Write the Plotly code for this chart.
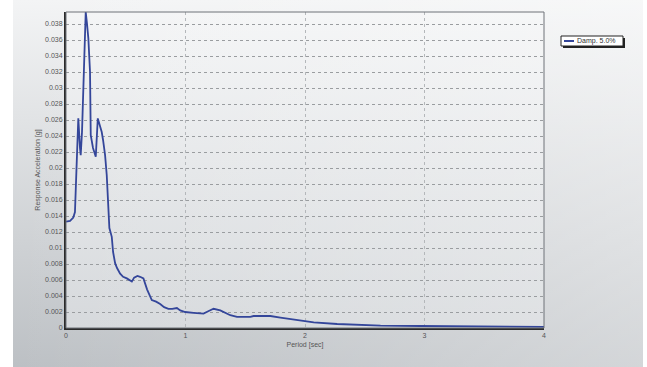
import base64
import plotly.graph_objects as go

# ---- data ----
period = [0.0, 0.034, 0.061, 0.075, 0.088, 0.103, 0.117, 0.123, 0.134, 0.151,
          0.165, 0.176, 0.187, 0.201, 0.207, 0.226, 0.249, 0.266, 0.285, 0.299,
          0.310, 0.327, 0.341, 0.352, 0.363, 0.383, 0.394, 0.411, 0.427, 0.453,
          0.478, 0.509, 0.528, 0.551, 0.570, 0.598, 0.620, 0.648, 0.679, 0.718,
          0.754, 0.788, 0.821, 0.857, 0.889, 0.928, 0.956, 0.997, 1.067, 1.151,
          1.19, 1.235, 1.291, 1.375, 1.431, 1.542, 1.570, 1.710, 1.794, 1.934,
          2.073, 2.269, 2.490, 2.632, 2.967, 3.30, 4.0]
accel = [0.0133, 0.0134, 0.0138, 0.0145, 0.0200, 0.0262, 0.0225, 0.0216, 0.0245, 0.0330,
         0.0395, 0.0380, 0.0362, 0.0320, 0.0241, 0.0225, 0.0214, 0.0262, 0.0253, 0.0245,
         0.0235, 0.0216, 0.0191, 0.0150, 0.0125, 0.0114, 0.0095, 0.0081, 0.0075, 0.0068,
         0.0064, 0.0062, 0.0060, 0.0058, 0.0063, 0.0065, 0.0064, 0.0062, 0.0048, 0.0035,
         0.0033, 0.0030, 0.0026, 0.0024, 0.0024, 0.0025, 0.0022, 0.0020, 0.0019, 0.0018,
         0.0021, 0.0024, 0.0022, 0.0016, 0.0014, 0.0014, 0.0015, 0.0015, 0.0013, 0.0010,
         0.0007, 0.0005, 0.0004, 0.0003, 0.00025, 0.0002, 0.00015]

series_name = "Damp. 5.0%"
x_ticks = [0, 1, 2, 3, 4]
y_ticks = [i * 0.002 for i in range(20)]
y_tick_labels = ["0", "0.002", "0.004", "0.006", "0.008", "0.01", "0.012", "0.014",
                 "0.016", "0.018", "0.02", "0.022", "0.024", "0.026", "0.028", "0.03",
                 "0.032", "0.034", "0.036", "0.038"]

# ---- figure geometry ----
W, H = 647, 367
ML, MR, MT, MB = 66, 103, 12, 39
PW, PH = W - ML - MR, H - MT - MB


def px_to_paper_x(px):
    return (px - ML) / PW


def px_to_paper_y(py):
    return (H - MB - py) / PH


def grad_svg(top, bottom, top_right=None):
    svg = (
        '<svg xmlns="http://www.w3.org/2000/svg" width="100" height="100" preserveAspectRatio="none">'
        '<defs><linearGradient id="g" x1="0" y1="0" x2="0" y2="1">'
        f'<stop offset="0" stop-color="{top}"/><stop offset="1" stop-color="{bottom}"/>'
        '</linearGradient>'
        '<linearGradient id="h" x1="0" y1="0" x2="1" y2="0">'
        '<stop offset="0" stop-color="#ffffff" stop-opacity="0"/>'
        f'<stop offset="1" stop-color="#ffffff" stop-opacity="{top_right or 0}"/>'
        '</linearGradient></defs>'
        '<rect width="100" height="100" fill="url(#g)"/>'
        '<rect width="100" height="100" fill="url(#h)"/>'
        '</svg>'
    )
    return "data:image/svg+xml;base64," + base64.b64encode(svg.encode()).decode()


fig = go.Figure()
fig.add_trace(go.Scatter(
    x=period, y=accel, mode="lines", name=series_name,
    line=dict(color="#34469a", width=1.8), showlegend=False,
))

# background panel and plot-area gradients
px0, px1, py0, py1 = 13, 643, 0, 367
fig.add_layout_image(dict(
    source=grad_svg("#f3f4f5", "#bcc0c4", 0.35), xref="paper", yref="paper",
    x=px_to_paper_x(px0), y=px_to_paper_y(py0),
    sizex=px_to_paper_x(px1) - px_to_paper_x(px0),
    sizey=px_to_paper_y(py0) - px_to_paper_y(py1),
    xanchor="left", yanchor="top", sizing="stretch", layer="below",
))
fig.add_layout_image(dict(
    source=grad_svg("#f4f5f6", "#d6d9dc", 0.2), xref="paper", yref="paper",
    x=0, y=1, sizex=1, sizey=1,
    xanchor="left", yanchor="top", sizing="stretch", layer="below",
))

# plot frame (thin, top/right)
fig.add_shape(type="rect", xref="paper", yref="paper", x0=0, x1=1, y0=0, y1=1,
              line=dict(color="#6f7378", width=1), layer="above")

# manual legend
lx0, lx1, ly0, ly1 = 561, 623, 36, 46
fig.add_shape(type="rect", xref="paper", yref="paper",
              x0=px_to_paper_x(lx0 + 2), x1=px_to_paper_x(lx1 + 2),
              y0=px_to_paper_y(ly1 + 2), y1=px_to_paper_y(ly0 + 2),
              fillcolor="#222222", line=dict(width=0))
fig.add_shape(type="rect", xref="paper", yref="paper",
              x0=px_to_paper_x(lx0), x1=px_to_paper_x(lx1),
              y0=px_to_paper_y(ly1), y1=px_to_paper_y(ly0),
              fillcolor="#ffffff", line=dict(color="#222222", width=1))
fig.add_shape(type="line", xref="paper", yref="paper",
              x0=px_to_paper_x(lx0 + 3), x1=px_to_paper_x(lx0 + 13),
              y0=px_to_paper_y((ly0 + ly1) / 2), y1=px_to_paper_y((ly0 + ly1) / 2),
              line=dict(color="#34469a", width=2))
fig.add_annotation(text=series_name, xref="paper", yref="paper",
                   x=px_to_paper_x(lx0 + 14), y=px_to_paper_y((ly0 + ly1) / 2),
                   xanchor="left", yanchor="middle", showarrow=False,
                   font=dict(size=7, color="#333333", family="Liberation Sans Narrow, Arial"))

tick_font = dict(size=7, color="#555555", family="Liberation Sans Narrow, Arial")

fig.update_layout(
    width=W, height=H,
    margin=dict(l=ML, r=MR, t=MT, b=MB, pad=0),
    paper_bgcolor="#ffffff", plot_bgcolor="rgba(0,0,0,0)",
    font=tick_font,
    xaxis=dict(
        range=[0, 4], tickvals=x_ticks, ticktext=[str(v) for v in x_ticks],
        showgrid=True, gridcolor="#b4b7ba", griddash="dot", gridwidth=1,
        zeroline=False, showline=True, linecolor="#2a2a2a", linewidth=2,
        ticks="", tickfont=tick_font,
        title=dict(text="Period [sec]", font=dict(size=7, color="#555555"), standoff=4),
    ),
    yaxis=dict(
        range=[0, 0.0395], tickvals=y_ticks, ticktext=y_tick_labels,
        showgrid=True, gridcolor="#9a9da0", griddash="dot", gridwidth=1,
        zeroline=False, showline=True, linecolor="#2a2a2a", linewidth=2,
        ticks="", tickfont=tick_font,
        title=dict(text="Response Acceleration [g]", font=dict(size=7, color="#555555"), standoff=4),
    ),
)

fig.write_html("out.html")
